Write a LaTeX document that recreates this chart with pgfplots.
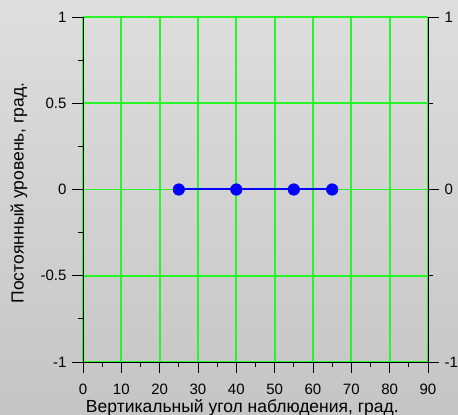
\documentclass[border=0pt]{standalone}
\usepackage{fontspec}
\setmainfont{Liberation Sans}
\usepackage{pgfplots}
\pgfplotsset{compat=1.18}
\definecolor{gridgreen}{RGB}{40,245,40}
\definecolor{bgtop}{RGB}{222,222,222}
\definecolor{bgbot}{RGB}{197,197,197}
\pgfplotsset{
  common/.style={
    at={(83pt,53pt)}, anchor=south west, scale only axis,
    width=345pt, height=345pt,
    xmin=0, xmax=90, ymin=-1, ymax=1,
    tick align=outside, major tick length=11pt, minor tick length=5pt,
    tick style={black, line width=0.8pt},
    axis line style={black, line width=0.8pt},
    tick label style={font=\fontsize{15}{18}\selectfont},
    label style={font=\fontsize{17.5}{20}\selectfont},
  }
}
\begin{document}
\begin{tikzpicture}
\useasboundingbox (0pt,0pt) rectangle (458pt,415pt);
\shade[top color=bgtop, bottom color=bgbot] (0pt,0pt) rectangle (458pt,415pt);
\begin{axis}[common,
  axis x line*=bottom, axis y line*=left,
  xtick={0,10,20,30,40,50,60,70,80,90},
  xticklabels={0,10,20,30,40,50,60,70,80,90},
  minor xtick={5,15,25,35,45,55,65,75,85},
  ytick={-1,-0.5,0,0.5,1},
  yticklabels={-1,-0.5,0,0.5,1},
  minor ytick={-0.75,-0.25,0.25,0.75},
  xticklabel style={yshift=-7pt},
  yticklabel style={xshift=-2pt},
  grid=major, major grid style={color=gridgreen, line width=1.8pt},
  minor grid style={draw=none},
  xlabel={Вертикальный угол наблюдения, град.},
  ylabel={Постоянный уровень, град.},
  xlabel style={at={(axis description cs:0.462,-0.145)}, anchor=base},
  ylabel style={at={(axis description cs:-0.1855,0.49)}, anchor=center},
]
\addplot[blue, line width=2pt, mark=*, mark size=5.8pt,
  mark options={fill=blue, draw=blue, line width=0.5pt}]
  coordinates {(25,0) (40,0) (55,0) (65,0)};
\end{axis}
\begin{axis}[common,
  axis y line*=right, axis x line=none,
  ytick={-1,0,1}, yticklabels={-1,0,1},
  minor ytick={-0.5,0.5},
  yticklabel style={xshift=2pt},
]
\end{axis}
\end{tikzpicture}
\end{document}
